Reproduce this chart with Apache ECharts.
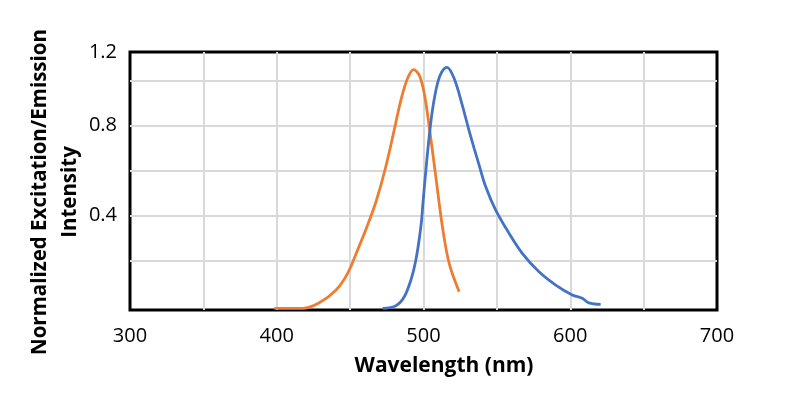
<!DOCTYPE html>
<html>
<head>
<meta charset="utf-8">
<script src="https://cdn.jsdelivr.net/npm/echarts@6/dist/echarts.min.js"></script>
<style>html,body{margin:0;padding:0;background:#fff}#c{width:800px;height:400px}</style>
</head>
<body>
<div id="c"></div>
<script>
const excitationNm  = [398.4, 417.7, 429, 440.4, 448.3, 455.1, 462, 468, 474, 480, 484.6, 489.1, 493.2, 497.1, 500.5, 503.9, 508.4, 512.9, 517.5, 524.3];
const excitationVal = [-0.012, -0.012, 0.013, 0.07, 0.144, 0.248, 0.36, 0.47, 0.61, 0.78, 0.914, 1.01, 1.05, 1.025, 0.944, 0.796, 0.573, 0.351, 0.188, 0.062];
const emissionNm  = [472.1, 481.2, 486.9, 491.4, 494.8, 498.2, 499.8, 501.2, 503.4, 506.1, 509.5, 512.5, 516, 520.9, 526.5, 531.1, 534.5, 537.9, 542.4, 549.2, 558.3, 567.3, 578.7, 590.1, 601.4, 608.2, 612.7, 620.7];
const emissionVal = [-0.012, 0, 0.04, 0.114, 0.203, 0.351, 0.47, 0.573, 0.722, 0.87, 0.988, 1.04, 1.06, 1.01, 0.89, 0.777, 0.70, 0.625, 0.529, 0.425, 0.322, 0.233, 0.151, 0.092, 0.048, 0.033, 0.013, 0.006];
const xTickValues = [300, 400, 500, 600, 700];
const xGridValues = [350, 400, 450, 500, 550, 600, 650];
const yGridValues = [0.2, 0.4, 0.6, 0.8, 1.0];
const yLabelValues = [0.4, 0.8, 1.128];
const yLabelTexts = ['0.4', '0.8', '1.2'];
const yMin = -0.019, yMax = 1.128;

const chart = echarts.init(document.getElementById('c'));
const font = 'Open Sans';
chart.setOption({
  animation: false,
  grid: {left: 130, right: 83, top: 52, bottom: 90, show: true, borderColor: '#000', borderWidth: 3, backgroundColor: 'transparent'},
  xAxis: {
    type: 'value', min: 300, max: 700,
    name: 'Wavelength (nm)', nameLocation: 'middle', nameGap: 46, nameMoveOverlap: false,
    nameTextStyle: {fontFamily: font, fontSize: 21, fontWeight: 'bold', color: '#000', padding: [0, 0, 0, 41]},
    axisLine: {show: false},
    axisTick: {show: false, customValues: xGridValues},
    axisLabel: {fontFamily: font, fontSize: 20, color: '#000', margin: 16, customValues: xTickValues},
    splitLine: {show: true, lineStyle: {color: '#d9d9d9', width: 2}}
  },
  yAxis: {
    type: 'value', min: yMin, max: yMax,
    name: 'Normalized Excitation/Emission\nIntensity', nameLocation: 'middle', nameGap: 45, nameMoveOverlap: false,
    nameTextStyle: {fontFamily: font, fontSize: 20.5, fontWeight: 'bold', color: '#000', lineHeight: 30, padding: [0, 22, 0, 0]},
    axisLine: {show: false},
    axisTick: {show: false, customValues: yGridValues},
    axisLabel: {fontFamily: font, fontSize: 20, color: '#000', margin: 13, customValues: yLabelValues,
      formatter: v => { const i = yLabelValues.findIndex(t => Math.abs(t - v) < 1e-6); return i >= 0 ? yLabelTexts[i] : ''; }},
    splitLine: {show: true, lineStyle: {color: '#d9d9d9', width: 2}}
  },
  series: [
    {type: 'line', name: 'Excitation', data: excitationNm.map((x, i) => [x, excitationVal[i]]),
     smooth: 0.35, showSymbol: false, lineStyle: {color: '#ED7D31', width: 2.8}, z: 3},
    {type: 'line', name: 'Emission', data: emissionNm.map((x, i) => [x, emissionVal[i]]),
     smooth: 0.35, showSymbol: false, lineStyle: {color: '#4472C4', width: 2.8}, z: 4}
  ]
});
</script>
</body>
</html>
